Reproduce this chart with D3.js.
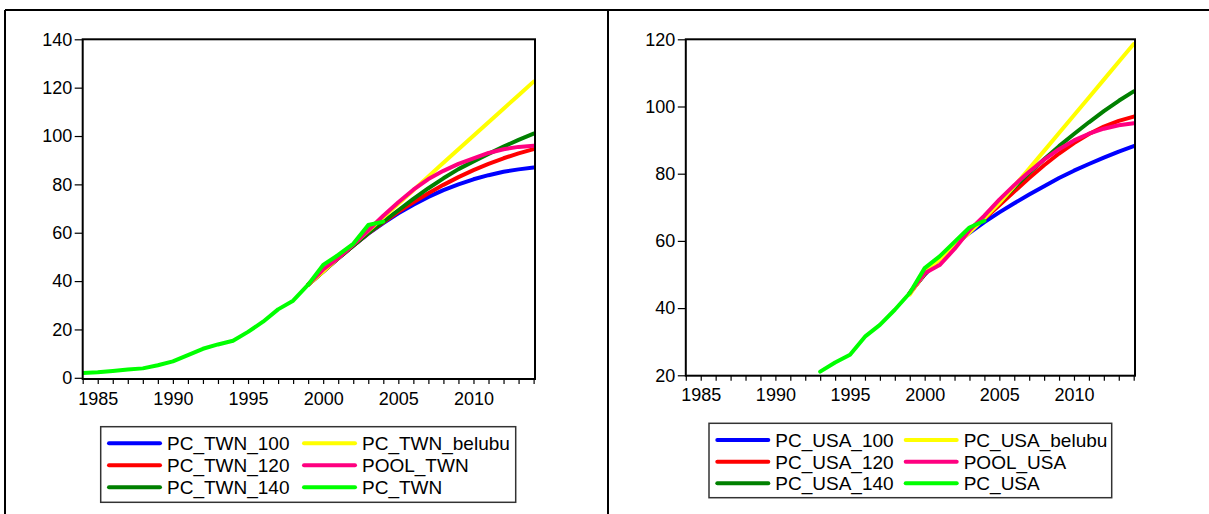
<!DOCTYPE html>
<html>
<head>
<meta charset="utf-8">
<script src="https://cdn.jsdelivr.net/npm/d3@7"></script>
<style>
  html, body { margin: 0; padding: 0; background: #fff; }
  svg { display: block; }
  text { font-family: Arial, "Liberation Sans", sans-serif; fill: #000; }
</style>
</head>
<body>
<svg id="chart" width="1209" height="514"></svg>
<script>
// ---- Taiwan ----
const twnYears = [1984, 1985, 1986, 1987, 1988, 1989, 1990, 1991, 1992, 1993, 1994,
                  1995, 1996, 1997, 1998, 1999, 2000, 2001, 2002, 2003, 2004];
const pcTwn = [2.0, 2.3, 2.8, 3.4, 3.9, 5.2, 6.8, 9.4, 12.0, 13.8, 15.3,
               19.0, 23.2, 28.3, 31.9, 38.5, 46.7, 50.8, 55.4, 63.2, 64.6];

// forecast horizon shared by the fitted series
const fcYears = [1999, 2000, 2001, 2002, 2003, 2004, 2005, 2006,
                 2007, 2008, 2009, 2010, 2011, 2012, 2013, 2014];
const pcTwn100 = [38.5, 44.0, 49.4, 54.6, 59.6, 64.0, 68.0, 71.6, 74.8, 77.6, 80.0, 82.1, 83.8, 85.2, 86.2, 87.0];
const pcTwn120 = [38.5, 44.0, 49.4, 54.6, 59.7, 64.3, 68.6, 72.6, 76.3, 79.8, 83.0, 85.9, 88.5, 90.8, 92.8, 94.6];
const pcTwn140 = [38.5, 44.0, 49.4, 54.6, 59.8, 64.6, 69.3, 74.0, 78.4, 82.5, 86.3, 89.5, 92.6, 95.6, 98.4, 101.0];
const pcTwnBelubu = [38.5, 44.0, 49.6, 55.2, 60.8, 66.4, 72.0, 77.6, 83.3, 88.9, 94.5, 100.1, 105.7, 111.3, 116.9, 122.5];
const poolTwn = [38.5, 44.8, 49.5, 55.0, 61.0, 67.0, 72.6, 77.8, 82.2, 85.6, 88.5, 90.8, 93.0, 94.5, 95.5, 96.0];

// ---- United States ----
const usaYears = [1993, 1994, 1995, 1996, 1997, 1998, 1999, 2000, 2001, 2002, 2003, 2004];
const pcUsa = [21.1, 23.8, 26.1, 31.5, 35.0, 39.5, 44.5, 51.9, 55.4, 59.7, 64.0, 66.0];
const pcUsa100 = [44.5, 50.0, 54.6, 58.7, 62.4, 65.6, 68.5, 71.2, 73.8, 76.3, 78.7, 80.9, 82.9, 84.8, 86.6, 88.2];
const pcUsa120 = [44.5, 50.1, 54.8, 59.0, 63.0, 66.6, 70.6, 74.7, 78.7, 82.5, 86.0, 89.1, 91.8, 94.0, 95.7, 97.0];
const pcUsa140 = [44.5, 50.2, 55.0, 59.2, 63.2, 67.0, 71.4, 75.9, 80.2, 84.3, 88.2, 91.8, 95.3, 98.6, 101.7, 104.5];
const pcUsaBelubu = [44.0, 50.5, 54.5, 58.5, 62.5, 66.8, 71.3, 76.3, 81.5, 86.8, 92.1, 97.4, 102.7, 108.0, 113.3, 118.6];
const poolUsa = [44.5, 50.4, 52.8, 57.6, 63.2, 67.5, 72.3, 76.6, 80.6, 84.2, 87.3, 89.9, 91.9, 93.4, 94.4, 95.0];

// axis ticks
const axisYears = d3.range(1984, 2015);
const twnYTicks = [0, 20, 40, 60, 80, 100, 120, 140];
const usaYTicks = [20, 40, 60, 80, 100, 120];

const seriesColors = ["#0000ff", "#ff0000", "#008000", "#ffff00", "#ff0080", "#00ff00"];

const svg = d3.select("#chart");

// outer table frame
const frame = svg.append("g").attr("stroke", "#000").attr("stroke-width", 2);
frame.append("line").attr("x1", 5).attr("x2", 1209).attr("y1", 10).attr("y2", 10);
frame.append("line").attr("x1", 5).attr("x2", 5).attr("y1", 10).attr("y2", 514);
frame.append("line").attr("x1", 608).attr("x2", 608).attr("y1", 10).attr("y2", 514);

function drawPanel(cfg) {
  const g = svg.append("g");
  const x = d3.scaleLinear().domain([1984, 2014]).range(cfg.xRange);
  const y = d3.scaleLinear().domain(cfg.yDomain).range(cfg.yRange);

  // x axis: a tick every year, labels every five
  const xAxis = d3.axisBottom(x)
    .tickValues(axisYears)
    .tickSize(5)
    .tickPadding(8)
    .tickFormat(d => d % 5 === 0 ? String(d) : "");
  const gx = g.append("g").attr("transform", `translate(0,${cfg.frameBottom})`).call(xAxis);
  gx.select(".domain").remove();
  gx.selectAll("line").attr("stroke", "#000").attr("stroke-width", 1.2);
  gx.selectAll("text").attr("font-size", 18).style("font-family", "Arial, 'Liberation Sans', sans-serif");

  const yAxis = d3.axisLeft(y).tickValues(cfg.yTicks).tickSize(8).tickPadding(2.5);
  const gy = g.append("g").attr("transform", `translate(${cfg.xRange[0]},0)`).call(yAxis);
  gy.select(".domain").remove();
  gy.selectAll("line").attr("stroke", "#000").attr("stroke-width", 1.2);
  gy.selectAll("text").attr("font-size", 18).style("font-family", "Arial, 'Liberation Sans', sans-serif");

  // series
  const line = d3.line().x(d => x(d[0])).y(d => y(d[1]));
  const clipId = "clip" + cfg.id;
  g.append("clipPath").attr("id", clipId).append("rect")
    .attr("x", cfg.xRange[0]).attr("y", cfg.frameTop)
    .attr("width", cfg.frameRight - cfg.xRange[0]).attr("height", cfg.frameBottom - cfg.frameTop);
  const lines = g.append("g").attr("clip-path", `url(#${clipId})`);
  cfg.series.forEach((s, i) => {
    lines.append("path")
      .datum(s.years.map((yr, k) => [yr, s.values[k]]))
      .attr("d", line)
      .attr("fill", "none")
      .attr("stroke", seriesColors[i])
      .attr("stroke-width", 4)
      .attr("stroke-linecap", "round")
      .attr("stroke-linejoin", "round");
  });

  // plot frame
  g.append("rect")
    .attr("x", cfg.xRange[0]).attr("y", cfg.frameTop)
    .attr("width", cfg.frameRight - cfg.xRange[0])
    .attr("height", cfg.frameBottom - cfg.frameTop)
    .attr("fill", "none").attr("stroke", "#000").attr("stroke-width", 2);

  // legend
  const L = cfg.legend;
  g.append("rect")
    .attr("x", L.x).attr("y", L.y).attr("width", L.w).attr("height", L.h)
    .attr("fill", "#fff").attr("stroke", "#333").attr("stroke-width", 1.5);
  cfg.series.forEach((s, i) => {
    const col = Math.floor(i / 3), row = i % 3;
    const lx = L.colX[col], ly = L.rowY[row];
    g.append("line")
      .attr("x1", lx).attr("x2", lx + 51).attr("y1", ly).attr("y2", ly)
      .attr("stroke", seriesColors[i]).attr("stroke-width", 4).attr("stroke-linecap", "round");
    g.append("text")
      .attr("x", lx + 58).attr("y", ly).attr("dy", "0.36em")
      .attr("font-size", 19)
      .text(s.name);
  });
}

drawPanel({
  id: "twn",
  xRange: [82.7, 533.6],
  frameRight: 535,
  frameTop: 39.3,
  frameBottom: 379,
  yDomain: [0, 140],
  yRange: [377.8, 39.3],
  yTicks: twnYTicks,
  series: [
    { name: "PC_TWN_100", years: fcYears, values: pcTwn100 },
    { name: "PC_TWN_120", years: fcYears, values: pcTwn120 },
    { name: "PC_TWN_140", years: fcYears, values: pcTwn140 },
    { name: "PC_TWN_belubu", years: fcYears, values: pcTwnBelubu },
    { name: "POOL_TWN", years: fcYears, values: poolTwn },
    { name: "PC_TWN", years: twnYears, values: pcTwn }
  ],
  legend: { x: 100.7, y: 426.7, w: 415, h: 75.6, colX: [109, 304], rowY: [443.3, 465.3, 487.3] }
});

drawPanel({
  id: "usa",
  xRange: [685.8, 1133.7],
  frameRight: 1135,
  frameTop: 39.3,
  frameBottom: 375.7,
  yDomain: [20, 120],
  yRange: [375.3, 39.3],
  yTicks: usaYTicks,
  series: [
    { name: "PC_USA_100", years: fcYears, values: pcUsa100 },
    { name: "PC_USA_120", years: fcYears, values: pcUsa120 },
    { name: "PC_USA_140", years: fcYears, values: pcUsa140 },
    { name: "PC_USA_belubu", years: fcYears, values: pcUsaBelubu },
    { name: "POOL_USA", years: fcYears, values: poolUsa },
    { name: "PC_USA", years: usaYears, values: pcUsa }
  ],
  legend: { x: 709, y: 423.3, w: 402.7, h: 74.4, colX: [717.3, 905.7], rowY: [440, 461.7, 483.3] }
});
</script>
</body>
</html>
